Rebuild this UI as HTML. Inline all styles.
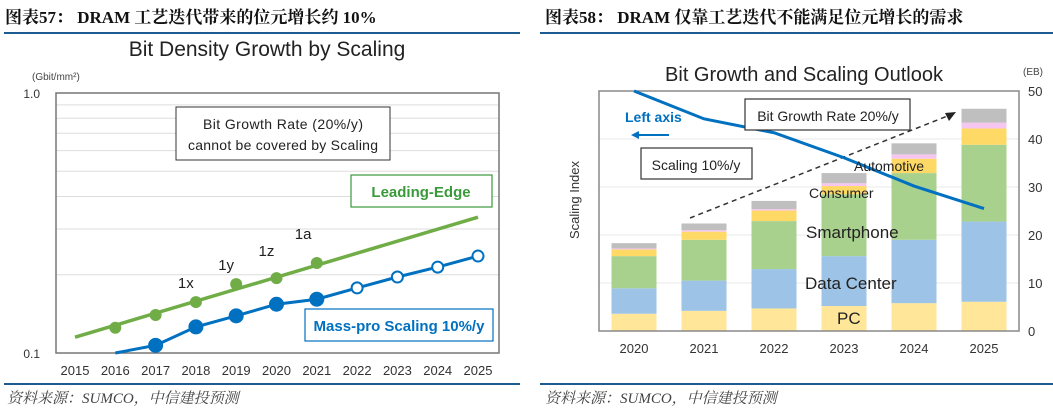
<!DOCTYPE html>
<html><head><meta charset="utf-8"><style>
body{margin:0;width:1053px;height:415px;background:#fff;overflow:hidden;font-family:"Liberation Sans","Noto Sans CJK SC",sans-serif}
svg{position:absolute;left:0;top:0}
</style></head><body>
<svg id="s" width="1053" height="415">
<g font-family="Liberation Serif,Noto Serif CJK SC,serif" font-weight="bold" font-size="17" fill="#111">
<text x="5" y="23">图表57：  DRAM 工艺迭代带来的位元增长约 10%</text>
<text x="545" y="23">图表58：  DRAM 仅靠工艺迭代不能满足位元增长的需求</text>
</g>
<rect x="4" y="32" width="516" height="2" fill="#1d5c91"/>
<rect x="540" y="32" width="513" height="2" fill="#1d5c91"/>
<rect x="4" y="383" width="516" height="2" fill="#1d5c91"/>
<rect x="540" y="383" width="513" height="2" fill="#1d5c91"/>
<g font-family="Liberation Serif,Noto Serif CJK SC,serif" font-style="italic" font-size="15" fill="#444">
<text x="7" y="403">资料来源：SUMCO，中信建投预测</text>
<text x="545" y="403">资料来源：SUMCO，中信建投预测</text>
</g>
<text x="267" y="56" text-anchor="middle" font-size="21" fill="#222">Bit Density Growth by Scaling</text>
<text x="32" y="80" font-size="10" fill="#444">(Gbit/mm²)</text>
<g id="L"></g>
<text x="804" y="81" text-anchor="middle" font-size="20" fill="#222">Bit Growth and Scaling Outlook</text>
<text x="1023" y="75" font-size="10" fill="#444">(EB)</text>
<g id="R"></g>
</svg>
<script>
// ---- Left chart data ----
const leftYears=[2015,2016,2017,2018,2019,2020,2021,2022,2023,2024,2025];
const leadYears=[2016,2017,2018,2019,2020,2021];
const leadVals=[0.125,0.140,0.157,0.184,0.194,0.222];
const leadTrendYears=[2015,2025];
const leadTrendVals=[0.115,0.333];
const nodeLabels=["1x","1y","1z","1a"];
const nodeYears=[2018,2019,2020,2021];
const massYears=[2016,2017,2018,2019,2020,2021,2022,2023,2024,2025];
const massVals=[0.1,0.107,0.126,0.139,0.154,0.161,0.178,0.196,0.214,0.236];
const massFilled=[false,true,true,true,true,true,false,false,false,false];
const massMarker=[false,true,true,true,true,true,true,true,true,true];
// ---- Right chart data ----
const rYears=[2020,2021,2022,2023,2024,2025];
const pc=[3.6,4.2,4.7,5.2,5.8,6.1];
const dc=[5.3,6.3,8.2,10.4,13.2,16.7];
const sp=[6.7,8.5,10.0,12.9,13.9,16.0];
const cons=[1.4,1.7,2.2,1.7,3.0,3.4];
const auto=[0.2,0.3,0.3,0.6,0.9,1.2];
const other=[1.1,1.4,1.7,2.1,2.3,2.9];
const scaling=[50,44.2,41.3,36.1,30.2,25.5];
const rTicks=[0,10,20,30,40,50];

const NS="http://www.w3.org/2000/svg";
function mk(p,t,a,txt){const e=document.createElementNS(NS,t);for(const k in a)e.setAttribute(k,a[k]);if(txt!==undefined)e.textContent=txt;p.appendChild(e);return e;}
// Left axes
const lx=y=>75+(y-2015)*40.3;
const ly=v=>353-Math.log10(v/0.1)*260;
const L=document.getElementById('L');
for(let v=0.2;v<0.95;v+=0.1){const g=mk(L,'line',{x1:56,x2:499,y1:ly(v),y2:ly(v),stroke:'#ddd','stroke-width':1});

}
let f=mk(L,'rect',{x:56,y:93,width:443,height:260,fill:'none',stroke:'#777','stroke-width':1.5});

let t=mk(L,'text',{x:40,y:98,'text-anchor':'end','font-size':12,fill:'#333'},'1.0');
t=mk(L,'text',{x:40,y:358,'text-anchor':'end','font-size':12,fill:'#333'},'0.1');
leftYears.forEach(y=>{const e=mk(L,'text',{x:lx(y),y:375,'text-anchor':'middle','font-size':13,fill:'#333'},y);

});
// annotation box
t=mk(L,'rect',{x:176,y:107,width:214,height:53,fill:'#fff',stroke:'#333','stroke-width':1});
mk(L,'text',{x:283,y:129,'text-anchor':'middle','font-size':14,fill:'#222',textLength:160},'Bit Growth Rate (20%/y)');
mk(L,'text',{x:283,y:150,'text-anchor':'middle','font-size':14,fill:'#222',textLength:190},'cannot be covered by Scaling');
// green trend
let tl=mk(L,'line',{x1:lx(leadTrendYears[0]),y1:ly(leadTrendVals[0]),x2:lx(leadTrendYears[1]),y2:ly(leadTrendVals[1]),stroke:'#70ad47','stroke-width':3.5});

leadYears.forEach((y,i)=>{const c=mk(L,'circle',{cx:lx(y),cy:ly(leadVals[i]),r:6,fill:'#70ad47'});

});
nodeYears.forEach((y,i)=>{const idx=leadYears.indexOf(y);const e=mk(L,'text',{x:lx(y)-18+(i==3?-4:0),y:ly(leadVals[idx])-14-(i==3?10:0)-(i==2?8:0),'font-size':15,fill:'#222'},nodeLabels[i]);

});
// blue
mk(L,'polyline',{points:massYears.map((y,i)=>lx(y)+','+Math.min(353,ly(massVals[i]))).join(' '),fill:'none',stroke:'#0070c0','stroke-width':3});
massYears.forEach((y,i)=>{if(!massMarker[i])return;const c=mk(L,'circle',{cx:lx(y),cy:ly(massVals[i]),r:massFilled[i]?6.5:5.5,fill:massFilled[i]?'#0070c0':'#fff',stroke:'#0070c0','stroke-width':2});

});
t=mk(L,'rect',{x:351,y:175,width:141,height:32,fill:'#fff',stroke:'#3a9a3a','stroke-width':1.2});
mk(L,'text',{x:421,y:197,'text-anchor':'middle','font-size':15,'font-weight':'bold',fill:'#3a9a3a'},'Leading-Edge');
t=mk(L,'rect',{x:305,y:309,width:188,height:32,fill:'#fff',stroke:'#0070c0','stroke-width':1.2});
mk(L,'text',{x:399,y:331,'text-anchor':'middle','font-size':15,'font-weight':'bold',fill:'#0070c0'},'Mass-pro Scaling 10%/y');

// Right chart
const R=document.getElementById('R');
const rx=i=>634+i*70;
const ry=v=>331-v*4.8;
[10,20,30,40].forEach(v=>{const g=mk(R,'line',{x1:599,x2:1019,y1:ry(v),y2:ry(v),stroke:'#e8e8e8','stroke-width':1});

});
rTicks.forEach(v=>{const e=mk(R,'text',{x:1028,y:ry(v)+5,'font-size':13,fill:'#333'},v);

});
const series=[[pc,'#ffe699','bar-pc'],[dc,'#9dc3e6','bar-data-center'],[sp,'#a9d18e','bar-smartphone'],[cons,'#ffd966','bar-consumer'],[auto,'#f4c6f0','bar-automotive'],[other,'#bfbfbf','bar-other']];
rYears.forEach((yr,i)=>{let base=0;series.forEach(s=>{const v=s[0][i];const r=mk(R,'rect',{x:rx(i)-22.5,y:ry(base+v),width:45,height:v*4.8,fill:s[1]});


base+=v;});
const e=mk(R,'text',{x:rx(i),y:353,'text-anchor':'middle','font-size':13,fill:'#333'},yr);

});
f=mk(R,'rect',{x:599,y:91,width:420,height:240,fill:'none',stroke:'#888','stroke-width':1.5});

// dashed arrow
mk(R,'line',{x1:690,y1:218,x2:950,y2:115,stroke:'#333','stroke-width':1.5,'stroke-dasharray':'5,4'});
mk(R,'polygon',{points:'956,112 945,113 949,121',fill:'#222'});
// scaling line
const sl=mk(R,'polyline',{points:scaling.map((v,i)=>rx(i)+','+ry(v)).join(' '),fill:'none',stroke:'#0070c0','stroke-width':3});

// labels
mk(R,'text',{x:625,y:122,'font-size':14,'font-weight':'bold',fill:'#0070c0'},'Left axis');
mk(R,'line',{x1:669,y1:135,x2:635,y2:135,stroke:'#0070c0','stroke-width':2});
mk(R,'polygon',{points:'631,135 639,131 639,139',fill:'#0070c0'});
t=mk(R,'rect',{x:641,y:148,width:111,height:31,fill:'#fff',stroke:'#333','stroke-width':1.2});
mk(R,'text',{x:696,y:170,'text-anchor':'middle','font-size':14,fill:'#222'},'Scaling 10%/y');
t=mk(R,'rect',{x:745,y:99,width:165,height:31,fill:'#fff',stroke:'#333','stroke-width':1.2});
mk(R,'text',{x:828,y:121,'text-anchor':'middle','font-size':14,fill:'#222'},'Bit Growth Rate 20%/y');
const lbl=[['Automotive',854,171,14],['Consumer',809,198,14],['Smartphone',806,238,17],['Data Center',805,289,17],['PC',837,324,17]];
lbl.forEach(l=>{const e=mk(R,'text',{x:l[1],y:l[2],'font-size':l[3],fill:'#222'},l[0]);

});
const yt=mk(R,'text',{x:0,y:0,'font-size':13,fill:'#333','text-anchor':'middle',transform:'translate(579,200) rotate(-90)'},'Scaling Index');

</script>
</body></html>
